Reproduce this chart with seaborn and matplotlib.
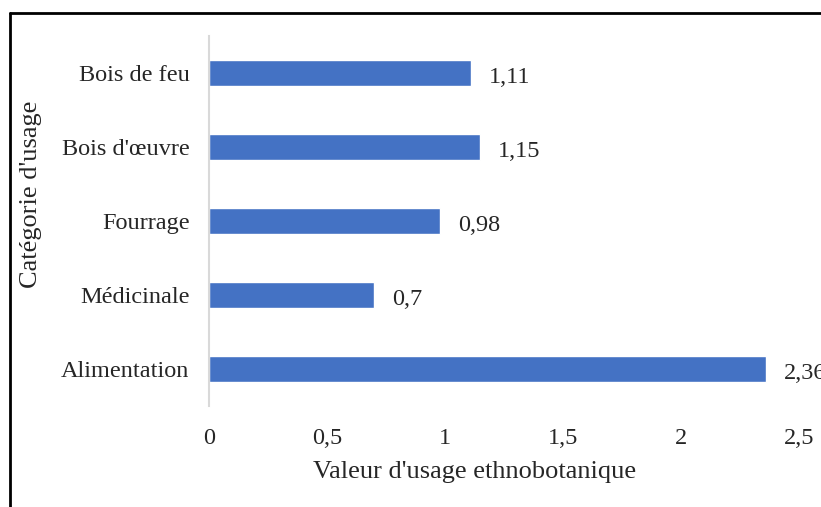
import matplotlib
matplotlib.use("Agg")
import matplotlib.pyplot as plt
import seaborn as sns
import pandas as pd
from matplotlib.lines import Line2D

categories = ["Bois de feu", "Bois d'œuvre", "Fourrage", "Médicinale", "Alimentation"]
values = [1.11, 1.15, 0.98, 0.7, 2.36]
value_labels = ["1,11", "1,15", "0,98", "0,7", "2,36"]
x_ticks = [0, 0.5, 1, 1.5, 2, 2.5]
x_tick_labels = ["0", "0,5", "1", "1,5", "2", "2,5"]

sns.set_style("white")
plt.rcParams['font.family'] = ['Liberation Serif', 'DejaVu Serif']

df = pd.DataFrame({"cat": categories, "val": values})

fig = plt.figure(figsize=(8.21, 5.07), dpi=100)
ax = fig.add_axes([209 / 821, 1 - 406 / 507, (799 - 209) / 821, (406 - 36) / 507])
sns.barplot(data=df, x="val", y="cat", orient="h", color="#4472C4", width=0.35,
            saturation=1, ax=ax)

ax.set_xlim(0, 2.5)
ax.set_xticks(x_ticks)
ax.set_xticklabels(x_tick_labels, fontsize=17.5)
ax.tick_params(axis="y", labelsize=17.5, length=0, pad=14)
ax.tick_params(axis="x", length=0, pad=16)

# data labels, baseline a bit below bar centre like the original
for i, v in enumerate(values):
    ax.text(v + 0.075, i + 0.13, value_labels[i], va="baseline", ha="left", fontsize=17.5)

for s in ["top", "right", "bottom"]:
    ax.spines[s].set_visible(False)
ax.spines["left"].set_color("#D9D9D9")
ax.spines["left"].set_linewidth(1.5)

ax.set_xlabel("Valeur d'usage ethnobotanique", fontsize=19)
ax.xaxis.set_label_coords((475 - 209) / (799 - 209), -(461 - 406) / (406 - 36))
ax.set_ylabel("Catégorie d'usage", fontsize=19)
ax.yaxis.set_label_coords(-(209 - 42) / (799 - 209), (406 - 194) / (406 - 36))

# outer frame (left and top only visible)
fig.add_artist(Line2D([9.5 / 821, 9.5 / 821], [0, 1 - 13 / 507], color="black", lw=2,
                      transform=fig.transFigure))
fig.add_artist(Line2D([9.5 / 821, 1], [1 - 13 / 507, 1 - 13 / 507], color="black", lw=2,
                      transform=fig.transFigure))

fig.savefig("out.png", dpi=100)
